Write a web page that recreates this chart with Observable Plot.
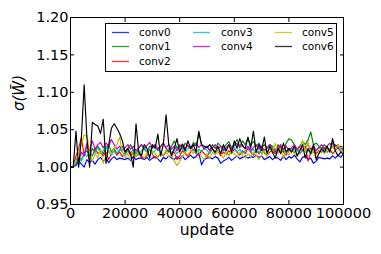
<!DOCTYPE html>
<html>
<head>
<meta charset="utf-8">
<script src="https://cdn.jsdelivr.net/npm/d3@7"></script>
<script src="https://cdn.jsdelivr.net/npm/@observablehq/plot@0.6"></script>
<style>
  body { margin: 0; background: white; }
  #wrap { position: relative; width: 381px; height: 254px; font-family: "DejaVu Sans", sans-serif; }
  #legend { position: absolute; left: 105px; top: 23px; }
</style>
</head>
<body>
<div id="wrap"></div>
<script>
const updates = [
  0,1000,2000,3000,4000,5000,6000,7000,8000,9000,
  10000,11000,12000,13000,14000,15000,16000,17000,18000,19000,
  20000,21000,22000,23000,24000,25000,26000,27000,28000,29000,
  30000,31000,32000,33000,34000,35000,36000,37000,38000,39000,
  40000,41000,42000,43000,44000,45000,46000,47000,48000,49000,
  50000,51000,52000,53000,54000,55000,56000,57000,58000,59000,
  60000,61000,62000,63000,64000,65000,66000,67000,68000,69000,
  70000,71000,72000,73000,74000,75000,76000,77000,78000,79000,
  80000,81000,82000,83000,84000,85000,86000,87000,88000,89000,
  90000,91000,92000,93000,94000,95000,96000,97000,98000,99000,
  100000];

const conv0 = [
  1.000,1.000,1.002,1.008,1.004,1.000,1.010,1.006,1.009,1.004,
  1.010,1.013,1.008,1.012,1.006,1.011,1.014,1.010,1.012,1.011,
  1.010,1.012,1.009,1.014,1.010,1.012,1.012,1.010,1.013,1.009,
  1.012,1.014,1.011,1.007,1.013,1.011,1.015,1.012,1.010,1.014,
  1.011,1.015,1.010,1.013,1.016,1.012,1.014,1.019,1.003,1.010,
  1.012,1.013,1.011,1.014,1.012,1.005,1.008,1.010,1.013,1.009,
  1.012,1.015,1.011,1.013,1.015,1.012,1.014,1.013,1.016,1.013,
  1.015,1.010,1.012,1.014,1.010,1.013,1.012,1.009,1.015,1.010,
  1.014,1.012,1.016,1.011,1.007,1.013,1.015,1.010,1.012,1.005,
  1.008,1.013,1.012,1.011,1.012,1.011,1.015,1.012,1.016,1.013,
  1.018];

const conv1 = [
  1.000,1.000,1.005,1.012,1.010,1.018,1.022,1.015,1.025,1.020,
  1.028,1.022,1.018,1.025,1.030,1.020,1.025,1.018,1.022,1.028,
  1.020,1.025,1.030,1.022,1.018,1.025,1.030,1.024,1.020,1.028,
  1.025,1.030,1.022,1.027,1.032,1.025,1.020,1.028,1.035,1.025,
  1.030,1.024,1.032,1.028,1.025,1.033,1.028,1.045,1.030,1.025,
  1.028,1.022,1.030,1.025,1.032,1.028,1.025,1.030,1.034,1.026,
  1.030,1.037,1.028,1.035,1.030,1.038,1.030,1.034,1.028,1.032,
  1.026,1.030,1.025,1.030,1.028,1.022,1.030,1.025,1.020,1.032,
  1.038,1.036,1.030,1.022,1.028,1.034,1.030,1.036,1.047,1.030,
  1.032,1.028,1.025,1.030,1.026,1.022,1.032,1.028,1.030,1.024,
  1.026];

const conv2 = [
  1.000,1.000,1.015,1.025,1.040,1.015,1.032,1.020,1.015,1.025,
  1.018,1.022,1.015,1.020,1.010,1.018,1.022,1.016,1.020,1.014,
  1.018,1.022,1.016,1.020,1.014,1.018,1.013,1.012,1.015,1.024,
  1.017,1.012,1.014,1.018,1.015,1.020,1.023,1.017,1.020,1.010,
  1.015,1.022,1.018,1.014,1.020,1.024,1.018,1.016,1.022,1.018,
  1.014,1.020,1.025,1.018,1.022,1.015,1.020,1.017,1.022,1.018,
  1.024,1.020,1.016,1.022,1.018,1.025,1.020,1.016,1.022,1.018,
  1.024,1.019,1.015,1.020,1.024,1.018,1.022,1.028,1.020,1.016,
  1.022,1.026,1.019,1.024,1.018,1.022,1.028,1.008,1.020,1.025,
  1.018,1.022,1.020,1.026,1.020,1.024,1.018,1.022,1.028,1.020,
  1.025];

const conv3 = [
  1.000,1.000,1.006,1.012,1.008,1.018,1.014,1.022,1.016,1.020,
  1.026,1.018,1.022,1.028,1.020,1.016,1.022,1.018,1.024,1.020,
  1.016,1.022,1.019,1.024,1.020,1.016,1.022,1.026,1.020,1.024,
  1.018,1.022,1.026,1.020,1.016,1.022,1.025,1.019,1.023,1.018,
  1.022,1.026,1.020,1.024,1.028,1.022,1.018,1.024,1.020,1.026,
  1.022,1.018,1.024,1.020,1.022,1.018,1.024,1.020,1.016,1.022,
  1.026,1.020,1.024,1.018,1.022,1.026,1.020,1.024,1.019,1.022,
  1.018,1.024,1.020,1.025,1.019,1.022,1.026,1.020,1.024,1.018,
  1.022,1.026,1.020,1.024,1.018,1.022,1.026,1.021,1.024,1.019,
  1.023,1.027,1.021,1.025,1.020,1.024,1.028,1.022,1.026,1.021,
  1.024];

const conv4 = [
  1.000,1.000,1.012,1.008,1.020,1.015,1.028,1.022,1.035,1.024,
  1.030,1.033,1.026,1.032,1.028,1.037,1.030,1.024,1.028,1.022,
  1.026,1.030,1.024,1.028,1.022,1.026,1.030,1.025,1.029,1.033,
  1.026,1.030,1.024,1.028,1.032,1.026,1.030,1.024,1.028,1.022,
  1.027,1.031,1.025,1.029,1.024,1.028,1.032,1.026,1.030,1.024,
  1.028,1.022,1.026,1.030,1.024,1.028,1.022,1.026,1.030,1.024,
  1.028,1.032,1.026,1.030,1.024,1.028,1.022,1.026,1.030,1.024,
  1.028,1.022,1.026,1.030,1.024,1.020,1.026,1.030,1.024,1.028,
  1.022,1.026,1.030,1.024,1.028,1.022,1.026,1.030,1.024,1.028,
  1.022,1.026,1.030,1.024,1.028,1.032,1.026,1.030,1.024,1.028,
  1.026];

const conv5 = [
  1.000,1.000,1.010,1.020,1.030,1.043,1.042,1.020,1.008,1.018,
  1.012,1.025,1.005,1.015,1.022,1.018,1.025,1.030,1.040,1.020,
  1.012,1.018,1.010,1.020,1.014,1.022,1.016,1.012,1.020,1.015,
  1.022,1.018,1.012,1.020,1.016,1.022,1.014,1.018,1.008,1.002,
  1.008,1.014,1.020,1.016,1.022,1.018,1.024,1.020,1.014,1.010,
  1.018,1.012,1.020,1.016,1.022,1.018,1.012,1.020,1.015,1.022,
  1.018,1.014,1.020,1.016,1.012,1.018,1.014,1.020,1.016,1.010,
  1.016,1.022,1.014,1.028,1.020,1.032,1.018,1.025,1.012,1.022,
  1.016,1.024,1.018,1.014,1.022,1.036,1.020,1.034,1.016,1.022,
  1.012,1.020,1.026,1.018,1.024,1.020,1.028,1.022,1.030,1.024,
  1.020];

const conv6 = [
  1.000,1.000,1.048,1.000,1.040,1.110,1.040,1.000,1.060,1.057,
  1.055,1.045,1.064,1.005,1.030,1.052,1.058,1.052,1.045,1.035,
  1.020,1.025,1.018,1.000,1.058,1.020,1.015,1.030,1.025,1.012,
  1.030,1.025,1.044,1.015,1.030,1.070,1.030,1.015,1.025,1.038,
  1.020,1.030,1.022,1.035,1.025,1.030,1.020,1.048,1.030,1.028,
  1.026,1.030,1.024,1.020,1.028,1.018,1.030,1.022,1.030,1.020,
  1.035,1.025,1.038,1.028,1.025,1.040,1.025,1.048,1.020,1.030,
  1.022,1.040,1.018,1.028,1.020,1.012,1.025,1.018,1.032,1.020,
  1.025,1.020,1.028,1.015,1.022,1.030,1.012,1.025,1.018,1.030,
  1.010,1.018,1.025,1.020,1.028,1.020,1.038,1.022,1.015,1.020,
  1.018];

const seriesNames = ["conv0","conv1","conv2","conv3","conv4","conv5","conv6"];
const seriesValues = [conv0, conv1, conv2, conv3, conv4, conv5, conv6];
const seriesColors = ["#0000ff","#008000","#ff0000","#00bfbf","#bf00bf","#bfbf00","#000000"];
const xTicks = [0, 20000, 40000, 60000, 80000, 100000];
const yTicks = [0.95, 1.00, 1.05, 1.10, 1.15, 1.20];
const xLabel = "update";
const yLabel = "\u03c3(W\u0304)";

const rows = [];
seriesNames.forEach((name, k) => {
  seriesValues[k].forEach((v, i) => rows.push({series: name, update: updates[i], value: v}));
});

const chart = Plot.plot({
  width: 381,
  height: 254,
  marginLeft: 70,
  marginRight: 38,
  marginTop: 17,
  marginBottom: 50,
  style: {fontFamily: "DejaVu Sans", fontSize: "14.5px", color: "black", background: "white", overflow: "visible"},
  x: {domain: [0, 100000]},
  y: {domain: [0.95, 1.20]},
  color: {domain: seriesNames, range: seriesColors},
  marks: [
    Plot.line(rows, {x: "update", y: "value", z: "series", stroke: "series", strokeWidth: 1.15}),
    Plot.frame({stroke: "black", strokeWidth: 1}),
    Plot.axisX(xTicks, {anchor: "bottom", tickSize: -4, tickFormat: () => "", label: null}),
    Plot.axisX(xTicks, {anchor: "top", tickSize: -4, tickFormat: () => "", label: null}),
    Plot.axisX(xTicks, {anchor: "bottom", tickSize: 0, tickPadding: 3, tickFormat: d => String(d), label: null}),
    Plot.axisY(yTicks, {anchor: "left", tickSize: -4, tickFormat: () => "", label: null}),
    Plot.axisY(yTicks, {anchor: "right", tickSize: -4, tickFormat: () => "", label: null}),
    Plot.axisY(yTicks, {anchor: "left", tickSize: 0, tickPadding: 2, tickFormat: d => d.toFixed(2), label: null}),
    Plot.text([xLabel], {text: d => d, frameAnchor: "bottom", dy: 30, fontSize: 15.5}),
    Plot.text([yLabel], {text: d => d, frameAnchor: "left", dx: -51, rotate: -90, fontSize: 15, fontStyle: "italic"})
  ]
});

const wrap = document.getElementById("wrap");
wrap.appendChild(chart);

// legend overlay (inside the axes, like matplotlib)
const ns = "http://www.w3.org/2000/svg";
const lg = document.createElementNS(ns, "svg");
lg.setAttribute("id", "legend");
lg.setAttribute("width", "233");
lg.setAttribute("height", "50");
const box = document.createElementNS(ns, "rect");
box.setAttribute("x", "0.5"); box.setAttribute("y", "0.5");
box.setAttribute("width", "231"); box.setAttribute("height", "48");
box.setAttribute("fill", "white"); box.setAttribute("stroke", "black");
lg.appendChild(box);
const colX = [[7, 34], [88, 116], [170, 197]];
const rowY = [9.5, 23.5, 38.5];
const layout = [[0,0],[0,1],[0,2],[1,0],[1,1],[2,0],[2,1]];
seriesNames.forEach((name, k) => {
  const [c, r] = layout[k];
  const ln = document.createElementNS(ns, "line");
  ln.setAttribute("x1", colX[c][0]); ln.setAttribute("x2", colX[c][0] + 17);
  ln.setAttribute("y1", rowY[r]); ln.setAttribute("y2", rowY[r]);
  ln.setAttribute("stroke", seriesColors[k]); ln.setAttribute("stroke-width", "1.3");
  ln.setAttribute("stroke-opacity", "0.8");
  lg.appendChild(ln);
  const t = document.createElementNS(ns, "text");
  t.setAttribute("x", colX[c][1]);
  t.setAttribute("y", rowY[r]);
  t.setAttribute("dy", "0.36em");
  t.setAttribute("font-family", "DejaVu Sans");
  t.setAttribute("font-size", "10.5");
  t.setAttribute("fill", "black");
  t.textContent = name;
  lg.appendChild(t);
});
wrap.appendChild(lg);
</script>
</body>
</html>
